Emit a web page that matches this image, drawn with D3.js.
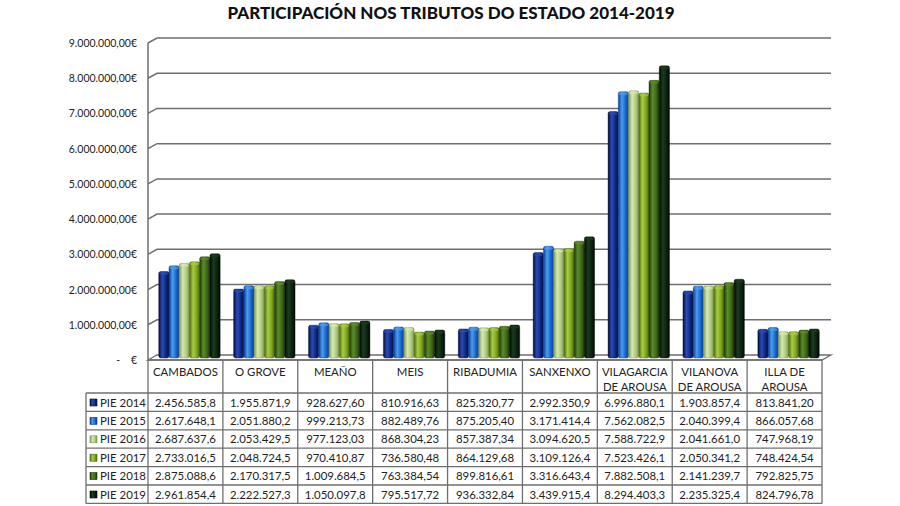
<!DOCTYPE html>
<html><head><meta charset="utf-8">
<script src="https://cdn.jsdelivr.net/npm/d3@7"></script>
<style>
html,body{margin:0;padding:0;background:#fff;}
svg{display:block;font-family:Lato,"Open Sans",sans-serif;}
</style></head>
<body>
<svg id="c" width="900" height="506"></svg>
<script>
const title = "PARTICIPACIÓN NOS TRIBUTOS DO ESTADO 2014-2019";
const categories = [["CAMBADOS"],["O GROVE"],["MEAÑO"],["MEIS"],["RIBADUMIA"],["SANXENXO"],["VILAGARCIA","DE AROUSA"],["VILANOVA","DE AROUSA"],["ILLA DE","AROUSA"]];
const seriesNames = ["PIE 2014","PIE 2015","PIE 2016","PIE 2017","PIE 2018","PIE 2019"];
const pie2014 = [2456585.8,1955871.9,928627.60,810916.63,825320.77,2992350.9,6996880.1,1903857.4,813841.20];
const pie2015 = [2617648.1,2051880.2,999213.73,882489.76,875205.40,3171414.4,7562082.5,2040399.4,866057.68];
const pie2016 = [2687637.6,2053429.5,977123.03,868304.23,857387.34,3094620.5,7588722.9,2041661.0,747968.19];
const pie2017 = [2733016.5,2048724.5,970410.87,736580.48,864129.68,3109126.4,7523426.1,2050341.2,748424.54];
const pie2018 = [2875088.6,2170317.5,1009684.5,763384.54,899816.61,3316643.4,7882508.1,2141239.7,792825.75];
const pie2019 = [2961854.4,2222527.3,1050097.8,795517.72,936332.84,3439915.4,8294403.3,2235325.4,824796.78];
const yTicks = [0,1e6,2e6,3e6,4e6,5e6,6e6,7e6,8e6,9e6];
const yTickLabels = ["-\u00a0\u00a0\u00a0\u00a0€","1.000.000,00€","2.000.000,00€","3.000.000,00€","4.000.000,00€","5.000.000,00€","6.000.000,00€","7.000.000,00€","8.000.000,00€","9.000.000,00€"];
const series = [pie2014,pie2015,pie2016,pie2017,pie2018,pie2019];
const colors = [
  {d:"#040c3a",m:"#0f2a84",l:"#2b4cb6"},
  {d:"#0a3c94",m:"#1868cc",l:"#4c9cf0"},
  {d:"#7e9658",m:"#b2ca84",l:"#d6eaac"},
  {d:"#4a6a08",m:"#82a61e",l:"#a8cc44"},
  {d:"#1c3808",m:"#3f6a16",l:"#5c8c2a"},
  {d:"#010701",m:"#0b2410",l:"#1c3c1c"}
];

const svg = d3.select("#c");
const x0 = 148, x1 = 822, depthX = 9, depthY = -5;
const yBase = 360, yTop = 43;
const x = d3.scaleBand().domain(d3.range(categories.length)).range([x0,x1]);
const y = d3.scaleLinear().domain([0,9e6]).range([yBase,yTop]);
const xs = d3.scaleBand().domain(d3.range(series.length)).range([0, x.bandwidth()*0.82]);

const loc = d3.formatLocale({decimal:",",thousands:".",grouping:[3],currency:["","€"]});
function fmt(v){
  const intDigits = String(Math.floor(v)).length;
  const dec = Math.max(0, 8-intDigits);
  return loc.format(",."+dec+"f")(v);
}

// gradients
const defs = svg.append("defs");
colors.forEach((c,i)=>{
  const g = defs.append("linearGradient").attr("id","g"+i).attr("x1","0").attr("x2","1").attr("y1","0").attr("y2","0");
  g.append("stop").attr("offset","0").attr("stop-color",c.d);
  g.append("stop").attr("offset","0.35").attr("stop-color",c.l);
  g.append("stop").attr("offset","0.7").attr("stop-color",c.m);
  g.append("stop").attr("offset","1").attr("stop-color",c.d);
});

// title
svg.append("text").attr("x",451).attr("y",19).attr("text-anchor","middle")
  .attr("font-size",17).attr("font-weight","900").attr("fill","#111").text(title);

// gridlines (back wall with 3D left diagonal)
const grid = svg.append("g");
yTicks.forEach(t=>{
  const yf = y(t), yb = y(t)+depthY;
  if (t>0){
    grid.append("path").attr("d",`M${x0},${yf}L${x0+depthX},${yb}L${x1+depthX},${yb}`)
      .attr("fill","none").attr("stroke","#6f6f6f").attr("stroke-width",1.5);
  }
});
// floor
grid.append("path").attr("d",`M${x0},${yBase}L${x0+depthX},${yBase+depthY}L${x1+depthX},${yBase+depthY}L${x1},${yBase}Z`)
  .attr("fill","#fff").attr("stroke","#6f6f6f").attr("stroke-width",1.3);
// vertical axis line
grid.append("line").attr("x1",x0).attr("x2",x0).attr("y1",y(9e6)).attr("y2",yBase)
  .attr("stroke","#6f6f6f").attr("stroke-width",1.5);

// y labels
svg.append("g").selectAll("text").data(yTicks).join("text")
  .attr("x",137).attr("y",d=>y(d)+4).attr("text-anchor","end")
  .attr("font-size",10.5).attr("fill","#222").text((d,i)=>yTickLabels[i]);

// bars
const bars = svg.append("g");
categories.forEach((c,ci)=>{
  const bx = x(ci) + (x.bandwidth()-xs.range()[1])/2 + 4;
  series.forEach((s,si)=>{
    const v = s[ci];
    const top = y(v) - 2;
    const w = xs.bandwidth();
    bars.append("rect").attr("x",bx+xs(si)).attr("y",top).attr("width",w).attr("height",yBase-2-top)
      .attr("rx",2).attr("fill",`url(#g${si})`).attr("stroke",colors[si].d).attr("stroke-width",0.4);
    bars.append("ellipse").attr("cx",bx+xs(si)+w/2).attr("cy",top+2).attr("rx",w/2-0.5).attr("ry",1.6)
      .attr("fill",colors[si].l).attr("opacity",0.7);
  });
});

// table
const tbl = svg.append("g");
const hTop = 360, hBot = 393, rowH = 18.4, legL = 86;
const tableBottom = hBot + rowH*series.length;
const lineC = "#6f6f6f";
tbl.append("line").attr("x1",x0).attr("x2",x1).attr("y1",hTop).attr("y2",hTop).attr("stroke",lineC).attr("stroke-width",1.3);
d3.range(categories.length+1).forEach(i=>{
  const xx = i<categories.length ? x(i) : x1;
  tbl.append("line").attr("x1",xx).attr("x2",xx).attr("y1",hTop).attr("y2",tableBottom).attr("stroke",lineC).attr("stroke-width",1.3);
});
tbl.append("line").attr("x1",legL).attr("x2",legL).attr("y1",hBot).attr("y2",tableBottom).attr("stroke",lineC).attr("stroke-width",1.3);
d3.range(series.length+1).forEach(r=>{
  const yy = hBot + r*rowH;
  tbl.append("line").attr("x1",legL).attr("x2",x1).attr("y1",yy).attr("y2",yy).attr("stroke",lineC).attr("stroke-width",1.3);
});
categories.forEach((c,ci)=>{
  c.forEach((ln,li)=>{
    tbl.append("text").attr("x",x(ci)+x.bandwidth()/2).attr("y",hTop+16+li*14.5)
      .attr("text-anchor","middle").attr("font-size",11.4).attr("fill","#222").text(ln);
  });
});
series.forEach((s,si)=>{
  const yy = hBot + si*rowH;
  tbl.append("rect").attr("x",legL+4).attr("y",yy+6).attr("width",7).attr("height",7)
    .attr("fill",`url(#g${si})`).attr("stroke",colors[si].d).attr("stroke-width",0.6);
  tbl.append("text").attr("x",legL+14).attr("y",yy+13.5).attr("font-size",11.4).attr("fill","#222").text(seriesNames[si]);
  s.forEach((v,ci)=>{
    tbl.append("text").attr("x",x(ci)+x.bandwidth()/2).attr("y",yy+13.5)
      .attr("text-anchor","middle").attr("font-size",11.4).attr("fill","#222").text(fmt(v));
  });
});
</script>
</body></html>
